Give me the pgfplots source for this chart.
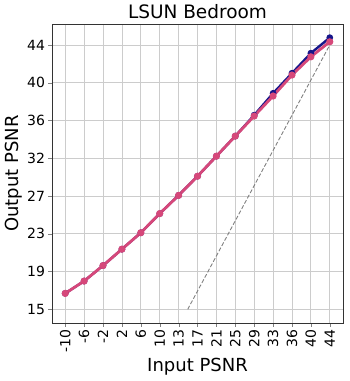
\documentclass[border=0pt]{standalone}
\usepackage{pgfplots}
\pgfplotsset{compat=1.18}
\usepackage{fontspec}
\setmainfont{DejaVu Sans}
\definecolor{navyline}{RGB}{22,22,138}
\definecolor{pinkline}{RGB}{214,72,122}
\begin{document}
\begin{tikzpicture}[x=1pt,y=1pt]
\useasboundingbox (-52,-58) rectangle (297,323);
\begin{axis}[
    at={(0,0)},anchor=south west,
    scale only axis,
    width=291pt,height=299pt,
    xmin=-12.7,xmax=46.7,
    ymin=13.5,ymax=46.3,
    xtick={-10,-6.143,-2.286,1.571,5.429,9.286,13.143,17,20.857,24.714,28.571,32.429,36.286,40.143,44},
    xticklabels={-10,-6,-2,2,6,10,13,17,21,25,29,33,36,40,44},
    ytick={15,19.143,23.286,27.429,31.571,35.714,39.857,44},
    yticklabels={15,19,23,27,32,36,40,44},
    x tick label style={rotate=90,anchor=east,font=\fontsize{14}{15}\selectfont},
    y tick label style={font=\fontsize{14}{15}\selectfont},
    tick align=outside,
    xtick pos=bottom, ytick pos=left,
    major tick length=3.5pt,
    grid=major,
    grid style={gray!40,line width=0.8pt},
    axis line style={line width=0.8pt,black!80},
    title={LSUN Bedroom},
    title style={font=\fontsize{18.5}{20}\selectfont,yshift=-4pt},
    xlabel={Input PSNR},
    ylabel={Output PSNR},
    xlabel style={font=\fontsize{18}{20}\selectfont,yshift=2pt},
    ylabel style={font=\fontsize{18}{20}\selectfont,yshift=-2pt},
]
\addplot[gray,dash pattern=on 4pt off 2pt,line width=0.9pt] coordinates {(15,15) (44,44)};
\addplot[navyline,line width=2.4pt,mark=*,mark size=2.1pt] coordinates {
(-10,16.75) (-6.143,18.1) (-2.286,19.8) (1.571,21.6) (5.429,23.4) (9.286,25.5)
(13.143,27.5) (17,29.6) (20.857,31.8) (24.714,34.0) (28.571,36.3) (32.429,38.7)
(36.286,40.9) (40.143,43.1) (44,44.8)};
\addplot[pinkline,line width=2.8pt,mark=*,mark size=2.1pt] coordinates {
(-10,16.75) (-6.143,18.1) (-2.286,19.8) (1.571,21.6) (5.429,23.4) (9.286,25.5)
(13.143,27.5) (17,29.6) (20.857,31.8) (24.714,34.0) (28.571,36.2) (32.429,38.4)
(36.286,40.7) (40.143,42.7) (44,44.35)};
\end{axis}
\end{tikzpicture}
\end{document}
